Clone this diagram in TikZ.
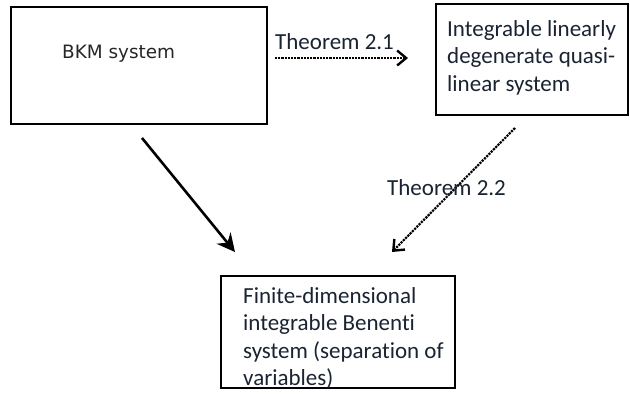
\documentclass[tikz,border=0pt]{standalone}
\usepackage{fontspec}
\setmainfont{Carlito}[Ligatures = NoCommon]
\newfontfamily\bkmfont{DejaVu Sans}
\usetikzlibrary{arrows.meta}
\definecolor{inktext}{RGB}{25,35,50}

\begin{document}
\begin{tikzpicture}[x = 1pt, y = -1pt,
  box/.style = {draw, line width = 2pt, inner sep = 0pt},
  txt/.style = {inner sep = 0pt, align = left, text = inktext, font = \fontsize{23}{27.5}\selectfont},
  dots/.style = {line width = 2.2pt, densely dotted, -{Straight Barb[length = 9pt, width = 15pt, line width = 2.4pt]}},
  solidarrow/.style = {line width = 2.6pt, -{Stealth[length = 18pt, width = 18pt, inset = 6pt]}}]
\useasboundingbox (0,0) rectangle (630,394);

% the three boxes
\node[box, minimum width = 256pt, minimum height = 117pt] (bkm) at (139,65.5) {};
\node[box, minimum width = 192pt, minimum height = 111pt] (quasi) at (532,59.5) {};
\node[box, minimum width = 234pt, minimum height = 112pt] (benenti) at (338,332) {};

% texts inside
\node[anchor = base west, inner sep = 0pt, text = black!85, font = \bkmfont\fontsize{18.4}{22}\selectfont] (bkmtext) at (62,58) {BKM system};
\node[txt, anchor = north west] (quasitext) at (447,20) {Integrable linearly\\degenerate quasi-\\linear system};
\node[txt, anchor = north west] (benentitext) at (243,287) {Finite-dimensional\\integrable Benenti\\system (separation of\\variables)};

% arrows
\coordinate (bkm out) at (142,138);
\coordinate (benenti in left) at (235,252);
\coordinate (bkm right) at (275,58);
\coordinate (quasi left) at (408,58);
\coordinate (quasi out) at (515,128);
\coordinate (benenti in right) at (392,252);

\draw[solidarrow] (bkm out) -- (benenti in left);
\draw[dots] (bkm right) -- (quasi left);
\draw[dots] (quasi out) -- (benenti in right);

\node[txt, anchor = base west] (thm1) at (275,49) {Theorem 2.1};
\node[txt, anchor = base west] (thm2) at (387,195) {Theorem 2.2};
\end{tikzpicture}
\end{document}
